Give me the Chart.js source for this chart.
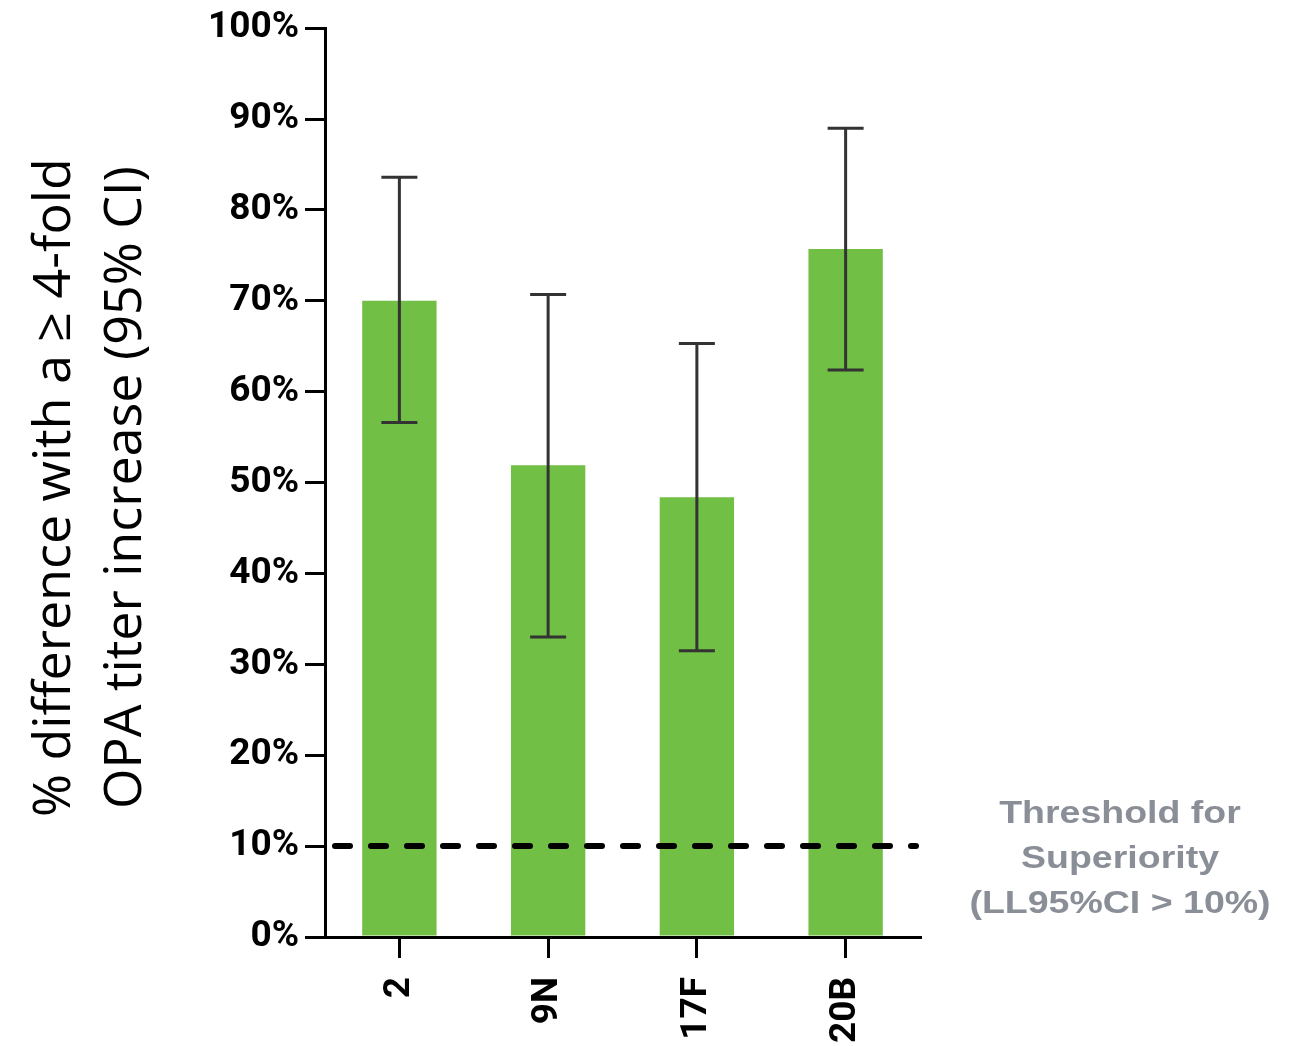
<!DOCTYPE html>
<html>
<head>
<meta charset="utf-8">
<script src="https://cdn.jsdelivr.net/npm/chart.js@4"></script>
<style>
  html, body { margin: 0; padding: 0; background: #fff; }
  #wrap { width: 1301px; height: 1046px; position: relative; }
</style>
</head>
<body>
<div id="wrap"><canvas id="c" width="1301" height="1046"></canvas></div>
<script>
// Serotypes and % difference with a >= 4-fold OPA titer increase
const serotypes = ['2', '9N', '17F', '20B'];
const pctDiff = [70.0, 51.9, 48.4, 75.7];
const ciLower = [56.6, 33.0, 31.5, 62.4];
const ciUpper = [83.6, 70.7, 65.3, 89.0];
const yTicks = [0, 10, 20, 30, 40, 50, 60, 70, 80, 90, 100];
const superiorityThreshold = 10;
const yTitleLines = ['% difference with a \u2265 4-fold', 'OPA titer increase (95% CI)'];
const thresholdLabel = ['Threshold for', 'Superiority', '(LL95%CI > 10%)'];

const tickFont = { family: 'Roboto', weight: 'bold', size: 37 };

// 95% CI whiskers with caps
const errorBars = {
  id: 'errorBars',
  afterDatasetsDraw(chart) {
    const { ctx, scales: { x, y } } = chart;
    ctx.save();
    ctx.strokeStyle = '#333333';
    ctx.lineWidth = 3;
    serotypes.forEach((s, i) => {
      const cx = x.getPixelForValue(i);
      const yl = y.getPixelForValue(ciLower[i]);
      const yh = y.getPixelForValue(ciUpper[i]);
      ctx.beginPath();
      ctx.moveTo(cx, yl); ctx.lineTo(cx, yh);
      ctx.moveTo(cx - 18, yh); ctx.lineTo(cx + 18, yh);
      ctx.moveTo(cx - 18, yl); ctx.lineTo(cx + 18, yl);
      ctx.stroke();
    });
    ctx.restore();
  }
};

// Dashed superiority threshold plus its label (wide bold lettering)
const thresholdLine = {
  id: 'thresholdLine',
  afterDatasetsDraw(chart) {
    const { ctx, chartArea, scales: { y } } = chart;
    const ty = y.getPixelForValue(superiorityThreshold);
    ctx.save();
    ctx.strokeStyle = '#000';
    ctx.lineWidth = 6;
    ctx.lineCap = 'round';
    ctx.setLineDash([15, 21]);
    ctx.beginPath();
    ctx.moveTo(chartArea.left + 10, ty);
    ctx.lineTo(chartArea.right - 4, ty);
    ctx.stroke();
    ctx.setLineDash([]);
    ctx.fillStyle = '#898e97';
    ctx.font = 'bold 31px "Liberation Sans", Arial, sans-serif';
    ctx.textAlign = 'center';
    ctx.textBaseline = 'middle';
    const sx = 1.21;
    thresholdLabel.forEach((t, i) => {
      ctx.save();
      ctx.translate(1120, 814 + i * 45);
      ctx.scale(sx, 1);
      ctx.fillText(t, 0, 0);
      ctx.restore();
    });
    ctx.restore();
  }
};

// Two-line rotated y-axis title
const yTitle = {
  id: 'yTitle',
  afterDraw(chart) {
    const { ctx, chartArea } = chart;
    const cy = (chartArea.top + chartArea.bottom) / 2 + 5;
    ctx.save();
    ctx.fillStyle = '#000';
    ctx.font = '52px "Open Sans", sans-serif';
    ctx.textAlign = 'center';
    ctx.textBaseline = 'middle';
    const xs = [55, 126];
    yTitleLines.forEach((t, i) => {
      ctx.save();
      ctx.translate(xs[i], cy);
      ctx.rotate(-Math.PI / 2);
      ctx.fillText(t, 0, 0);
      ctx.restore();
    });
    ctx.restore();
  }
};

new Chart(document.getElementById('c'), {
  type: 'bar',
  data: {
    labels: serotypes,
    datasets: [{
      data: pctDiff,
      backgroundColor: '#71bf45',
      barPercentage: 0.5,
      categoryPercentage: 1.0
    }]
  },
  options: {
    responsive: false,
    animation: false,
    layout: { padding: { left: 0, right: 381, top: 27, bottom: 0 } },
    plugins: { legend: { display: false }, tooltip: { enabled: false } },
    scales: {
      x: {
        border: { color: '#000', width: 3 },
        grid: { display: true, drawOnChartArea: false, drawTicks: true, tickLength: 21, color: '#000', lineWidth: 3, offset: false },
        ticks: { color: '#000', font: tickFont, maxRotation: 90, minRotation: 90, padding: 19 },
        afterFit(scale) { scale.height = 109; }
      },
      y: {
        min: 0, max: 100,
        afterBuildTicks(scale) { scale.ticks = yTicks.map(v => ({ value: v })); },
        border: { color: '#000', width: 3 },
        grid: { display: true, drawOnChartArea: false, drawTicks: true, tickLength: 20, color: '#000', lineWidth: 3 },
        ticks: { color: '#000', font: tickFont, padding: 6, callback: v => v + '%' },
        afterFit(scale) { scale.width = 325; }
      }
    }
  },
  plugins: [errorBars, thresholdLine, yTitle]
});
</script>
</body>
</html>
